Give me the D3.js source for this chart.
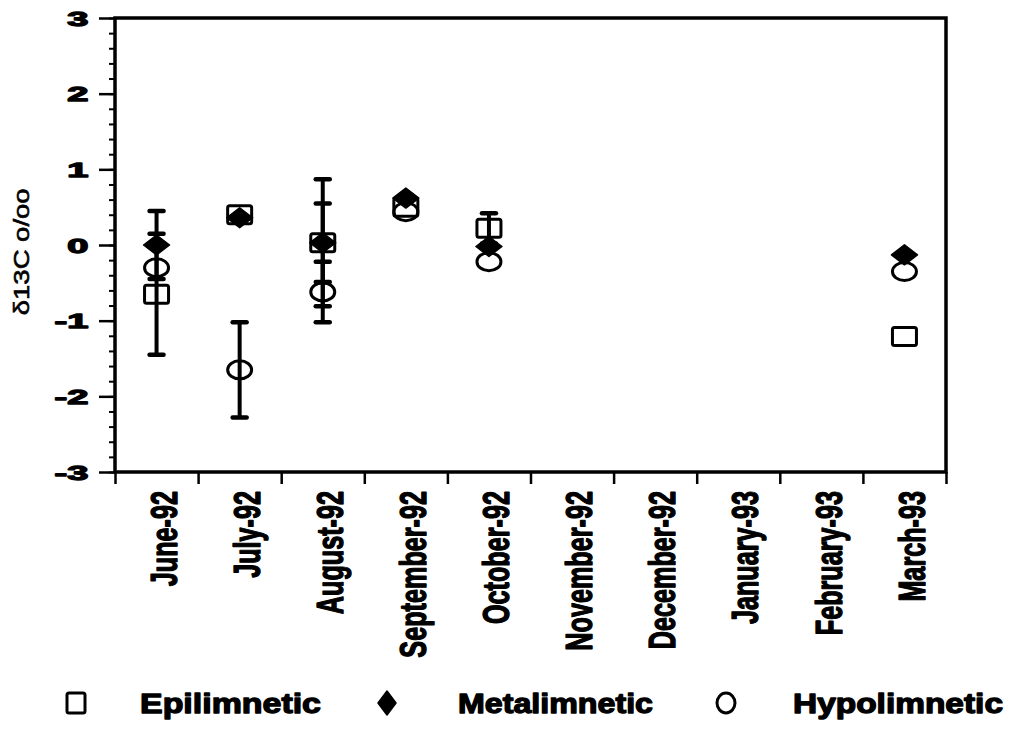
<!DOCTYPE html>
<html>
<head>
<meta charset="utf-8">
<script src="https://cdn.jsdelivr.net/npm/d3@7"></script>
<style>
  body { margin: 0; background: #fff; }
  text { font-family: "Liberation Sans", Arial, sans-serif; fill: #000; }
  .heavy { font-weight: bold; stroke: #000; stroke-width: 1.3px; stroke-linejoin: round; }
</style>
</head>
<body>
<div id="wrapper"></div>
<script>
// data
const months = ["June-92", "July-92", "August-92", "September-92", "October-92",
  "November-92", "December-92", "January-93", "February-93", "March-93"]

const epiValues  = [-0.65, 0.40, 0.03, 0.50, 0.22, null, null, null, null, -1.21]
const epiErrors  = [0.80, null, 0.84, null, 0.20, null, null, null, null, null]
const metaValues = [0.00, 0.36, 0.03, 0.62, -0.02, null, null, null, null, -0.13]
const metaErrors = [0.45, null, 0.52, null, null, null, null, null, null, null]
const hypoValues = [-0.30, -1.65, -0.62, 0.44, -0.22, null, null, null, null, -0.35]
const hypoErrors = [null, 0.63, 0.40, null, null, null, null, null, null, null]

const yTicks = [-3, -2, -1, 0, 1, 2, 3]
const seriesNames = ["Epilimnetic", "Metalimnetic", "Hypolimnetic"]
const yTitle = "\u03b413C o/oo"

function drawChart() {
  const dimensions = {
    width: 1009,
    height: 746,
    margin: { top: 18, right: 63, bottom: 274, left: 115 },
  }
  dimensions.boundedWidth = dimensions.width - dimensions.margin.left - dimensions.margin.right
  dimensions.boundedHeight = dimensions.height - dimensions.margin.top - dimensions.margin.bottom

  const wrapper = d3.select("#wrapper")
    .append("svg")
      .attr("width", dimensions.width)
      .attr("height", dimensions.height)

  const bounds = wrapper.append("g")
      .attr("transform", `translate(${dimensions.margin.left},${dimensions.margin.top})`)

  // scales
  const xScale = d3.scaleBand()
    .domain(months)
    .range([0, dimensions.boundedWidth])

  const xEdges = d3.scaleLinear()
    .domain([0, months.length])
    .range([0, dimensions.boundedWidth])

  const yScale = d3.scaleLinear()
    .domain([-3, 3])
    .range([dimensions.boundedHeight, 0])

  const cx = i => xScale(months[i]) + xScale.bandwidth() / 2

  // y axis: minor then major ticks
  bounds.append("g")
    .call(d3.axisLeft(yScale).tickValues(d3.range(-30, 31, 2).map(d => d / 10)).tickSize(6).tickFormat(""))
    .call(g => g.select(".domain").remove())
    .selectAll("line").attr("stroke-width", 2)

  const yAxis = bounds.append("g")
    .call(d3.axisLeft(yScale).tickValues(yTicks).tickSize(16).tickFormat(d => String(d)))
    .call(g => g.select(".domain").remove())
  yAxis.selectAll("line").attr("stroke-width", 2.5)
  yAxis.selectAll("text")
      .attr("class", "heavy")
      .attr("x", -14)
      .attr("dy", "0.36em")
      .attr("transform", "scale(1.9,1)")
      .style("font-size", "20px")
      .style("font-family", "Liberation Sans, Arial, sans-serif")

  // x axis: ticks at band edges, labels at band centres
  bounds.append("g")
      .attr("transform", `translate(0,${dimensions.boundedHeight})`)
    .call(d3.axisBottom(xEdges).tickValues(d3.range(months.length + 1)).tickSize(12).tickFormat(""))
    .call(g => g.select(".domain").remove())
    .selectAll("line").attr("stroke-width", 2.5)

  const xAxis = bounds.append("g")
      .attr("transform", `translate(0,${dimensions.boundedHeight})`)
    .call(d3.axisBottom(xScale).tickSize(0).tickPadding(0))
    .call(g => g.select(".domain").remove())
  xAxis.selectAll("text")
      .attr("class", "heavy")
      .attr("x", 0)
      .attr("y", 0)
      .attr("dy", "0.36em")
      .attr("text-anchor", "end")
      .attr("transform", "translate(7,19) rotate(-90) scale(0.72,1.05)")
      .style("font-size", "35px")
      .style("font-family", "Liberation Sans, Arial, sans-serif")

  // frame
  bounds.append("rect")
      .attr("width", dimensions.boundedWidth)
      .attr("height", dimensions.boundedHeight)
      .attr("fill", "none")
      .attr("stroke", "#000")
      .attr("stroke-width", 3.5)

  // y title
  wrapper.append("text")
      .attr("transform", `translate(21,${dimensions.margin.top + yScale(-0.09)}) rotate(-90) scale(1.25,1)`)
      .attr("text-anchor", "middle")
      .attr("dy", "0.36em")
      .attr("stroke", "#000")
      .attr("stroke-width", 0.6)
      .style("font-size", "22px")
      .text(yTitle)

  // markers: type 0 square, 1 diamond, 2 circle
  const drawMarker = (g, type, x, y, w, h) => {
    if (type === 0) {
      g.append("rect")
          .attr("x", x - w / 2).attr("y", y - h / 2)
          .attr("width", w).attr("height", h)
          .attr("rx", 2)
          .attr("fill", "none").attr("stroke", "#000").attr("stroke-width", 3)
    } else if (type === 1) {
      g.append("path")
          .attr("d", `M${x},${y - h / 2 - 1}L${x + w / 2 + 1},${y}L${x},${y + h / 2 + 1}L${x - w / 2 - 1},${y}Z`)
          .attr("fill", "#000")
          .attr("stroke", "#000")
          .attr("stroke-width", 1.5)
          .attr("stroke-linejoin", "round")
    } else {
      g.append("ellipse")
          .attr("cx", x).attr("cy", y)
          .attr("rx", w / 2).attr("ry", h / 2)
          .attr("fill", "none").attr("stroke", "#000").attr("stroke-width", 3)
    }
  }

  const series = [
    { values: epiValues, errors: epiErrors },
    { values: metaValues, errors: metaErrors },
    { values: hypoValues, errors: hypoErrors },
  ]

  const dotsGroup = bounds.append("g")
  series.forEach((s, k) => {
    s.values.forEach((v, i) => {
      if (v == null) return
      drawMarker(dotsGroup, k, cx(i), yScale(v), 24, 18)
    })
  })

  // error bars on top
  const barsGroup = bounds.append("g")
    .attr("stroke", "#000")
  series.forEach(s => {
    s.values.forEach((v, i) => {
      const e = s.errors[i]
      if (v == null || e == null) return
      const x = cx(i)
      barsGroup.append("line")
          .attr("x1", x).attr("x2", x)
          .attr("y1", yScale(v + e)).attr("y2", yScale(v - e))
          .attr("stroke-width", 4)
      ;[v + e, v - e].forEach(c => {
        barsGroup.append("line")
            .attr("x1", x - 7).attr("x2", x + 7)
            .attr("y1", yScale(c)).attr("y2", yScale(c))
            .attr("stroke-width", 4.5)
            .attr("stroke-linecap", "round")
      })
    })
  })

  // legend
  const legendY = 703
  const legendItems = [
    { markerX: 76, textX: 140, textLength: 181 },
    { markerX: 387, textX: 458, textLength: 195 },
    { markerX: 726, textX: 793, textLength: 210 },
  ]
  const legend = wrapper.append("g")
  legendItems.forEach((item, k) => {
    drawMarker(legend, k, item.markerX, legendY, k === 1 ? 16 : 18, k === 1 ? 22 : 20)
    legend.append("text")
        .attr("class", "heavy")
        .attr("x", item.textX)
        .attr("y", legendY)
        .attr("dy", "0.36em")
        .attr("textLength", item.textLength)
        .attr("lengthAdjust", "spacingAndGlyphs")
        .style("font-size", "28px")
        .text(seriesNames[k])
  })
}

drawChart()
</script>
</body>
</html>
